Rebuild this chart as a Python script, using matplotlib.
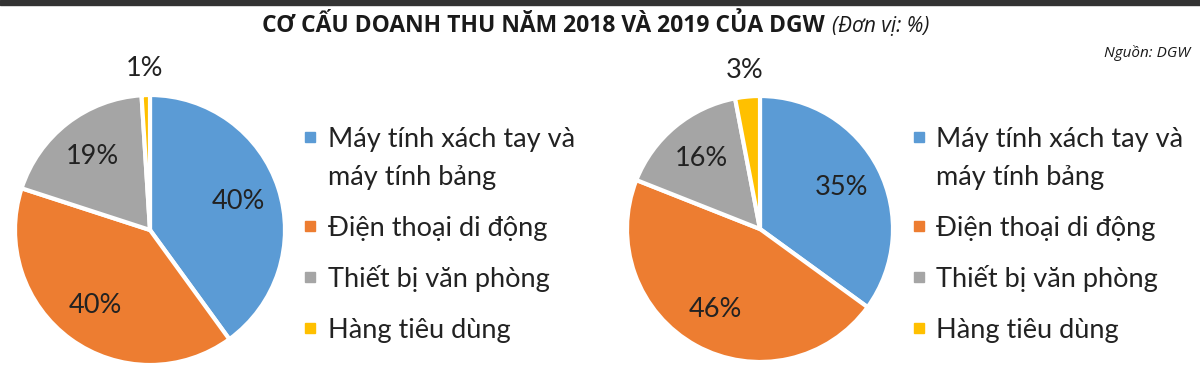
import numpy as np
import matplotlib.pyplot as plt
from matplotlib.patches import Rectangle

# data
categories = ["Máy tính xách tay và\nmáy tính bảng", "Điện thoại di động",
              "Thiết bị văn phòng", "Hàng tiêu dùng"]
share_2018 = [40, 40, 19, 1]
share_2019 = [35, 46, 16, 3]
colors = ["#5B9BD5", "#ED7D31", "#A5A5A5", "#FFC000"]

W, H = 1200, 370
TXT = "#222222"
fig = plt.figure(figsize=(12, 3.7), dpi=100)


def px_axes(x0, y0, w, h):
    # pixel box measured from the top-left corner
    return fig.add_axes([x0 / W, 1 - (y0 + h) / H, w / W, h / H])


def draw_pie(ax, values):
    wedges, _, autotexts = ax.pie(
        values, colors=colors, startangle=90, counterclock=False,
        autopct="%.0f%%", pctdistance=0.69,
        wedgeprops=dict(edgecolor="white", linewidth=3),
        textprops=dict(fontsize=19.5, color=TXT, family="Lato"))
    for w, t, v in zip(wedges, autotexts, values):
        if v < 5:  # small slices get the label outside
            a = np.deg2rad((w.theta1 + w.theta2) / 2)
            t.set_position((1.2 * np.cos(a), 1.2 * np.sin(a)))
    ax.set_xlim(-1, 1)
    ax.set_ylim(-1, 1)


def draw_legend(x_sq, x_txt):
    y = 147
    for cat, col in zip(categories, colors):
        lines = cat.split("\n")
        sq = 10
        fig.patches.append(Rectangle((x_sq / W, 1 - (y - 5) / H), sq / W, sq / H,
                                     transform=fig.transFigure, color=col))
        for line in lines:
            fig.text(x_txt / W, 1 - y / H, line, fontsize=19.5, family="Lato",
                     color=TXT, va="baseline", ha="left")
            y += 38
        y += 51 - 38


ax1 = px_axes(15, 95, 270, 270)
draw_pie(ax1, share_2018)
draw_legend(305, 328)

ax2 = px_axes(627, 96, 266, 266)
draw_pie(ax2, share_2019)
draw_legend(914, 936)

# header
fig.patches.append(Rectangle((0, 1 - 5 / H), 1, 5 / H, transform=fig.transFigure,
                             color="#333333"))
fig.text(825 / W, 1 - 32 / H, "CƠ CẤU DOANH THU NĂM 2018 VÀ 2019 CỦA DGW",
         fontsize=16.5, fontweight="bold", family="Open Sans",
         color="#1a1a1a", ha="right", va="baseline")
fig.text(832 / W, 1 - 32 / H, "(Đơn vị: %)", fontsize=15, style="italic",
         family="Open Sans", color="#1a1a1a", ha="left", va="baseline")
fig.text(1190 / W, 1 - 57 / H, "Nguồn: DGW", fontsize=11, style="italic",
         family="Open Sans", color="#1a1a1a", ha="right", va="baseline")

fig.savefig("out.png", dpi=100, facecolor="white")
